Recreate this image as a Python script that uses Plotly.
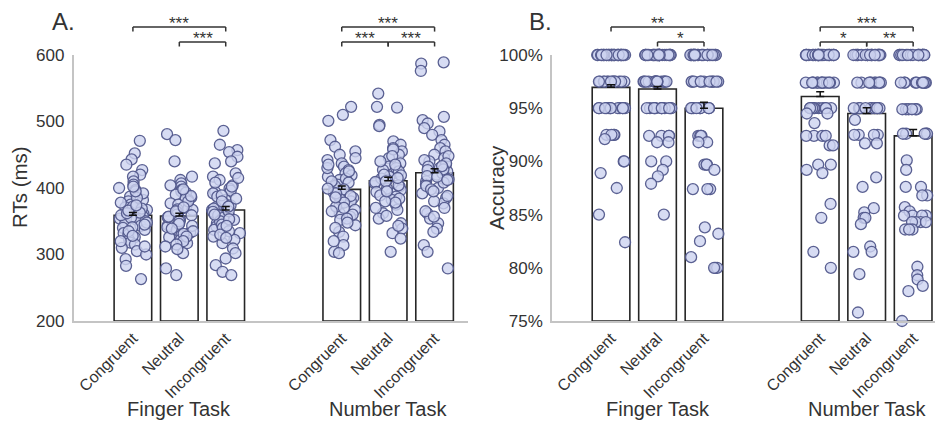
import math
import plotly.graph_objects as go

# ---------------- data ----------------
conditions = ["Congruent", "Neutral", "Incongruent"]
tasks = ["Finger Task", "Number Task"]
tick_labels = conditions + conditions
positions = [0, 1, 2, 4.5, 5.5, 6.5]

rt_means = [359, 358, 367, 398, 411, 423]
rt_se = [4, 4, 5, 5, 5, 6]
acc_means = [96.96, 96.8, 95.0, 96.1, 94.5, 92.4]
acc_se = [0.25, 0.25, 0.55, 0.45, 0.55, 0.6]

rt_fc = [471, 452, 443, 435, 427, 420, 417, 410, 405, 400, 397, 390, 387, 382, 380, 375, 371, 367, 365, 361,
         357, 354, 352, 350, 346, 343, 340, 337, 332, 330, 326, 322, 318, 315, 310, 305, 300, 293, 283, 263,
         392, 385, 378, 372, 369, 363, 359, 355, 348, 345, 341, 335, 328, 320, 312, 362, 366, 374, 395, 402]
rt_fn = [481, 472, 440, 417, 412, 407, 402, 397, 395, 390, 386, 382, 377, 373, 370, 367, 362, 359, 354, 352,
         347, 344, 341, 337, 333, 329, 326, 322, 317, 312, 302, 279, 269, 404, 393, 384, 380, 375, 368, 364,
         360, 356, 350, 346, 343, 339, 335, 331, 327, 320, 315, 308, 357, 365, 371, 388, 398]
rt_fi = [486, 465, 457, 454, 447, 440, 437, 422, 417, 412, 404, 399, 394, 392, 387, 382, 377, 371, 367, 362,
         357, 352, 347, 342, 337, 332, 327, 322, 317, 309, 302, 294, 284, 274, 269, 415, 408, 396, 389, 380,
         374, 369, 364, 359, 355, 350, 345, 340, 335, 330, 325, 365, 372, 384, 402, 360, 353, 343]
rt_nc = [522, 510, 501, 472, 462, 455, 450, 442, 437, 432, 427, 422, 417, 412, 405, 400, 395, 390, 385, 380,
         375, 367, 362, 357, 352, 344, 334, 327, 314, 304, 302, 445, 430, 419, 414, 408, 403, 398, 393, 388,
         383, 378, 372, 365, 360, 354, 348, 340, 320, 410, 425, 435, 392, 386, 370, 399]
rt_nn = [542, 522, 521, 495, 493, 470, 465, 460, 455, 450, 445, 437, 432, 427, 422, 417, 412, 407, 402, 397,
         392, 387, 382, 375, 367, 362, 354, 347, 339, 332, 324, 304, 458, 448, 440, 430, 425, 419, 414, 409,
         404, 399, 394, 389, 384, 378, 370, 358, 343, 415, 420, 435, 410, 380, 395]
rt_ni = [589, 587, 576, 507, 502, 497, 490, 485, 480, 472, 465, 460, 455, 450, 445, 440, 435, 430, 425, 420,
         415, 410, 405, 400, 392, 385, 377, 370, 362, 354, 347, 339, 334, 314, 304, 279, 448, 442, 437, 432,
         427, 422, 418, 413, 408, 403, 398, 388, 380, 365, 428, 433, 417, 412, 395, 357]

acc_fc = [100, 100, 100, 100, 100, 100, 100, 100, 100, 100, 100, 100, 100, 100, 100, 100, 100, 100, 100, 100,
          100, 100, 100, 100, 100, 100, 100, 100, 100, 100,
          97.5, 97.5, 97.5, 97.5, 97.5, 97.5, 97.5, 97.5, 97.5, 97.5, 97.5, 97.5, 97.5, 97.5,
          95, 95, 95, 95, 95, 95, 95, 95, 95, 95, 95, 95,
          92.5, 92.5, 92.5, 92.5, 92.1, 90, 90, 88.9, 87.5, 85, 82.4]
acc_fn = [100, 100, 100, 100, 100, 100, 100, 100, 100, 100, 100, 100, 100, 100, 100, 100, 100, 100, 100, 100,
          100, 100, 100, 100, 100, 100, 100, 100,
          97.5, 97.5, 97.5, 97.5, 97.5, 97.5, 97.5, 97.5, 97.5, 97.5, 97.5, 97.5, 97.5, 97.5, 97.5, 97.5,
          95, 95, 95, 95, 95, 95, 95, 95, 95, 95, 95, 95,
          92.4, 92.4, 92.4, 92.4, 91.8, 91.8, 90, 90, 89.2, 88.6, 87.9, 85]
acc_fi = [100, 100, 100, 100, 100, 100, 100, 100, 100, 100, 100, 100, 100, 100, 100, 100, 100, 100, 100, 100,
          100, 100, 100, 100,
          97.5, 97.5, 97.5, 97.5, 97.5, 97.5, 97.5, 97.5, 97.5, 97.5, 97.5, 97.5,
          95, 95, 95, 95, 95, 95, 95, 95,
          92.4, 92.4, 92.4, 92.4, 91.8, 91.8, 89.7, 89.7, 89.7, 89.2, 87.4, 87.4, 87.4,
          83.8, 83.2, 82.5, 81.0, 80, 80, 80]
acc_nc = [100, 100, 100, 100, 100, 100, 100, 100, 100, 100, 100, 100, 100, 100, 100, 100, 100, 100, 100, 100,
          100, 100, 100, 100, 100, 100,
          97.4, 97.4, 97.4, 97.4, 97.4, 97.4, 97.4, 97.4, 97.4, 97.4, 97.4, 97.4, 97.4, 97.4,
          95, 95, 95, 95, 95, 95, 95, 95, 95, 95, 94.5, 94.5, 93.6,
          92.4, 92.4, 92.4, 92.4, 91.5, 91.5, 89.7, 89.7, 89.2, 88.9, 86.0, 84.7, 81.5, 80.0]
acc_nn = [100, 100, 100, 100, 100, 100, 100, 100, 100, 100, 100, 100, 100, 100, 100, 100, 100, 100, 100, 100,
          100, 100,
          97.4, 97.4, 97.4, 97.4, 97.4, 97.4, 97.4, 97.4, 97.4, 97.4,
          95, 95, 95, 95, 95, 95, 95, 95, 95, 95, 93.9,
          92.5, 92.5, 92.5, 92.5, 91.7, 91.7, 88.5, 87.6, 85.6, 85.2, 84.7, 84.7, 84.1, 82.0, 81.5, 81.5,
          79.4, 75.8]
acc_ni = [100, 100, 100, 100, 100, 100, 100, 100, 100, 100, 100, 100, 100, 100, 100, 100, 100, 100,
          97.4, 97.4, 97.4, 97.4, 97.4, 97.4, 97.4, 97.4, 97.4, 97.4,
          94.9, 94.9, 94.9, 94.9, 94.9, 94.9,
          92.6, 92.6, 92.6, 92.6, 92.6, 90.1, 89.2, 87.6, 87.6, 86.8, 86.8, 85.7, 85.3,
          84.9, 84.9, 84.9, 84.9, 84.3, 84.3, 84.3, 84.3, 83.6, 83.6, 83.6,
          80.1, 79.3, 78.9, 78.3, 77.8, 75.0]

rt_points = [rt_fc, rt_fn, rt_fi, rt_nc, rt_nn, rt_ni]
acc_points = [acc_fc, acc_fn, acc_fi, acc_nc, acc_nn, acc_ni]

# significance brackets: (from index, to index, level, label)
rt_sig = [(0, 2, 1, "***"), (1, 2, 0, "***"), (3, 5, 1, "***"), (3, 4, 0, "***"), (4, 5, 0, "***")]
acc_sig = [(0, 2, 1, "**"), (1, 2, 0, "*"), (3, 5, 1, "***"), (3, 4, 0, "*"), (4, 5, 0, "**")]

# ---------------- style ----------------
FONT = "Arial, Liberation Sans, sans-serif"
TXT = "#333333"
AXC = "#c4c4c4"
PT_FILL = "rgba(205,211,240,0.80)"
PT_LINE = "rgba(82,88,140,0.95)"
W, H = 935, 423


def jitter(i, k):
    v = math.sin((i + 1) * 12.9898 + (k + 1) * 78.233) * 43758.5453
    return (v - math.floor(v) - 0.5) * 0.62


fig = go.Figure()

panels = [
    dict(xa="x", ya="y", means=rt_means, se=rt_se, pts=rt_points, base=200, sig=rt_sig),
    dict(xa="x2", ya="y2", means=acc_means, se=acc_se, pts=acc_points, base=75, sig=acc_sig),
]

for p in panels:
    fig.add_trace(go.Bar(
        x=positions, y=[m - p["base"] for m in p["means"]], base=p["base"],
        width=0.81, marker=dict(color="white", line=dict(color="#262626", width=1.6)),
        xaxis=p["xa"], yaxis=p["ya"], hoverinfo="skip"))
    for k, vals in enumerate(p["pts"]):
        xs = [positions[k] + jitter(i, k) for i in range(len(vals))]
        fig.add_trace(go.Scatter(
            x=xs, y=vals, mode="markers", cliponaxis=False,
            marker=dict(size=11, color=PT_FILL, line=dict(color=PT_LINE, width=1.3)),
            xaxis=p["xa"], yaxis=p["ya"], hoverinfo="skip"))
    fig.add_trace(go.Scatter(
        x=positions, y=p["means"], mode="markers", marker=dict(size=1, opacity=0),
        error_y=dict(type="data", array=p["se"], arrayminus=[0] * 6, symmetric=False,
                     color="#111111", thickness=1.5, width=4),
        xaxis=p["xa"], yaxis=p["ya"], hoverinfo="skip"))

shapes = []
annotations = []
lvl_y = {1: 1.105, 0: 1.049}
drop = 0.017
for p in panels:
    yref = p["ya"] + " domain"
    for a, b, lvl, lab in p["sig"]:
        x0, x1 = positions[a], positions[b]
        y = lvl_y[lvl]
        for (xa0, ya0, xa1, ya1) in [(x0, y, x1, y), (x0, y - drop, x0, y), (x1, y - drop, x1, y)]:
            shapes.append(dict(type="line", xref=p["xa"], yref=yref, x0=xa0, y0=ya0, x1=xa1, y1=ya1,
                               line=dict(color="#333333", width=1.5)))
        annotations.append(dict(text=lab, x=(x0 + x1) / 2, y=y + 0.012, xref=p["xa"], yref=yref,
                                showarrow=False, xanchor="center", yanchor="middle",
                                font=dict(family=FONT, size=17, color=TXT)))
    for t, cx in zip(tasks, [1, 5.5]):
        annotations.append(dict(text=t, x=cx, y=(H - 409) / H, xref=p["xa"], yref="paper",
                                showarrow=False, xanchor="center", yanchor="middle",
                                font=dict(family=FONT, size=20, color=TXT)))

annotations += [
    dict(text="A.", x=63 / W, y=(H - 22) / H, xref="paper", yref="paper", showarrow=False,
         xanchor="center", yanchor="middle", font=dict(family=FONT, size=24, color=TXT)),
    dict(text="B.", x=540 / W, y=(H - 22) / H, xref="paper", yref="paper", showarrow=False,
         xanchor="center", yanchor="middle", font=dict(family=FONT, size=24, color=TXT)),
    dict(text="RTs (ms)", x=19 / W, y=(H - 187) / H, xref="paper", yref="paper", showarrow=False,
         xanchor="center", yanchor="middle", textangle=-90, font=dict(family=FONT, size=20.5, color=TXT)),
    dict(text="Accuracy", x=496 / W, y=(H - 188) / H, xref="paper", yref="paper", showarrow=False,
         xanchor="center", yanchor="middle", textangle=-90, font=dict(family=FONT, size=20.5, color=TXT)),
]

ydom = [(H - 321) / H, (H - 55) / H]
xcommon = dict(tickvals=positions, ticktext=tick_labels, tickangle=-45, showline=True, linecolor=AXC,
               linewidth=1.5, ticks="", showgrid=False, zeroline=False, automargin=False,
               tickfont=dict(family=FONT, size=16, color=TXT))
ycommon = dict(showline=True, linecolor=AXC, linewidth=1.5, ticks="", showgrid=False, zeroline=False,
               automargin=False, tickfont=dict(family=FONT, size=17, color=TXT), ticklabelstandoff=4)

fig.update_layout(
    width=W, height=H, margin=dict(l=0, r=0, t=0, b=0, autoexpand=False),
    paper_bgcolor="white", plot_bgcolor="white", showlegend=False,
    xaxis=dict(domain=[73.5 / W, 468 / W], range=[-1.28, 7.22], anchor="y", **xcommon),
    yaxis=dict(domain=ydom, range=[200, 600], tickvals=[200, 300, 400, 500, 600], anchor="x", **ycommon),
    xaxis2=dict(domain=[552 / W, 1.0], range=[-1.27, 6.97], anchor="y2", **xcommon),
    yaxis2=dict(domain=ydom, range=[75, 100], tickvals=[75, 80, 85, 90, 95, 100],
                ticktext=["75%", "80%", "85%", "90%", "95%", "100%"], anchor="x2", **ycommon),
    shapes=shapes, annotations=annotations,
)

fig.write_html("out.html")
